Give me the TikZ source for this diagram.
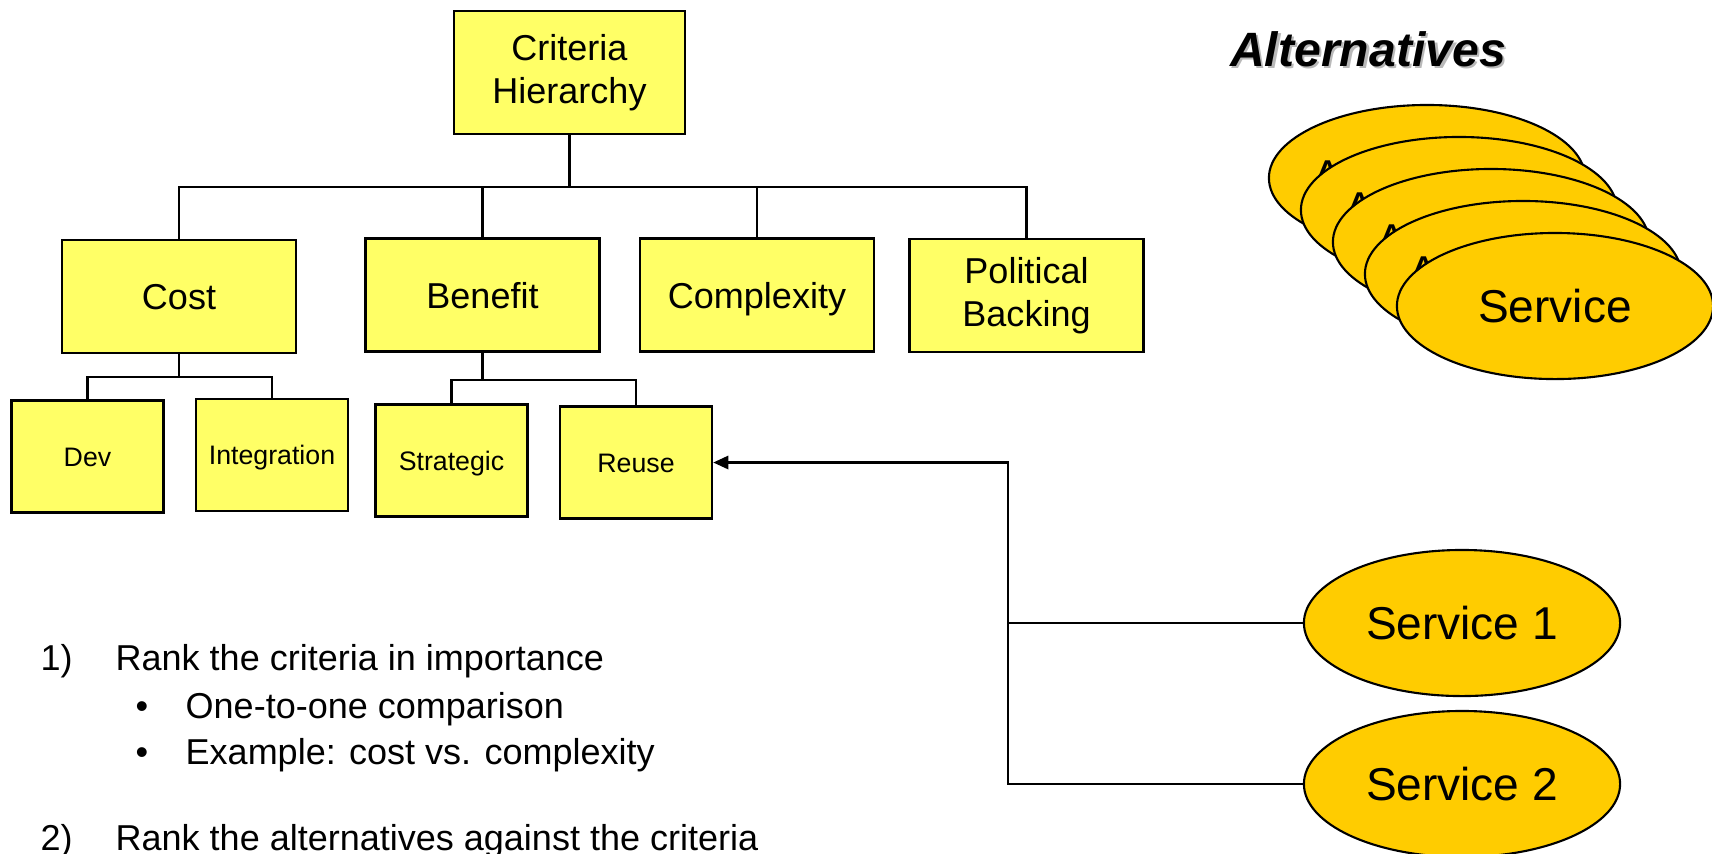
\documentclass[tikz,border=0pt]{standalone}
\usepackage{fontspec}
\setmainfont{Liberation Sans}
\usetikzlibrary{shapes.geometric,arrows.meta}

\definecolor{boxyellow}{HTML}{FFFF66}
\definecolor{svcgold}{HTML}{FFCC00}
\newcommand\bigtxt{\fontsize{10.24pt}{12.4pt}\selectfont}
\newcommand\smalltxt{\fontsize{7.6pt}{9pt}\selectfont}
\newcommand\svctxt{\fontsize{13.1pt}{15pt}\selectfont}
\newcommand\titletxt{\fontsize{13.7pt}{16pt}\selectfont\bfseries\itshape}

\begin{document}
\begin{tikzpicture}[x=0.01cm,y=-0.01cm,
    box/.style={rectangle,draw,line width=0.7pt,fill=boxyellow,font=\bigtxt,align=center,
        minimum width=2.34cm,minimum height=1.13cm,inner sep=0pt},
    single/.style={text height=7.4pt,text depth=0pt},
    subbox/.style={box,single,text height=5.5pt,font=\smalltxt,minimum width=1.52cm,minimum height=1.12cm},
    service/.style={ellipse,draw,line width=0.6pt,fill=svcgold,font=\svctxt,
        minimum width=3.16cm,minimum height=1.46cm,inner sep=0pt},
    link/.style={line width=0.6pt},
    listtext/.style={anchor=base west,inner sep=0pt,font=\bigtxt}]
\useasboundingbox (0,0) rectangle (1712,853);

% criteria tree
\begin{scope}[every node/.style={box}]
    \node[minimum width=2.31cm,minimum height=1.23cm] (crit) at (569.5,72.5) {Criteria\\Hierarchy};
    \node[single] (cost) at (179,296.5) {Cost};
    \node[single] (benefit) at (482.5,295) {Benefit};
    \node[single] (complexity) at (757,295) {Complexity};
    \node (political) at (1026.5,295.5) {Political\\Backing};
\end{scope}
\begin{scope}[every node/.style={subbox}]
    \node (dev) at (87.5,456.5) {Dev};
    \node (integration) at (272,455) {Integration};
    \node (strategic) at (451.5,460.5) {Strategic};
    \node (reuse) at (636,462.5) {Reuse};
\end{scope}
\begin{scope}[link]
    \draw (crit.south) -- ++(0,52) coordinate (bus);
    \foreach \n in {cost,benefit,complexity,political}
        \draw (bus) -| (\n.north);
    \draw (cost.south) -- ++(0,23) coordinate (costbus);
    \foreach \n in {dev,integration}
        \draw (costbus) -| (\n.north);
    \draw (benefit.south) -- ++(0,27) coordinate (benefitbus);
    \foreach \n in {strategic,reuse}
        \draw (benefitbus) -| (\n.north);
\end{scope}

% alternatives
\node[font=\titletxt,text=gray!55] (alttitleshadow) at (1370.5,51.5) {Alternatives};
\node[font=\titletxt] (alttitle) at (1368,49) {Alternatives};
\foreach \i in {0,...,3} {
    \node[service] (alt\i) at (1427+32*\i,178+32*\i) {};
    \node[anchor=base west,inner sep=0pt,font=\svctxt] (altA\i) at (1312+32*\i,192+32*\i) {A};
}
\node[service] (alt4) at (1555,306) {Service};

\node[service] (s1) at (1462,623) {Service 1};
\node[service] (s2) at (1462,784) {Service 2};
\coordinate (tap) at (1008,623);
\draw[link] (s1.west) -- (tap);
\draw[link,-{Triangle[length=4.3pt,width=3.8pt]}] (s2.west) -| (tap) |- (reuse.east);

% steps
\node[listtext] (num1) at (40,670) {1)};
\node[listtext] (step1) at (115,670) {Rank the criteria in importance};
\node[listtext] (dot1) at (135,718) {\textbullet};
\node[listtext] (sub1) at (185,718) {One-to-one comparison};
\node[listtext] (dot2) at (135,764) {\textbullet};
\node[listtext] (sub2) at (185,764) {Example: cost vs. complexity};
\node[listtext] (num2) at (40,850) {2)};
\node[listtext] (step2) at (115,850) {Rank the alternatives against the criteria};
\end{tikzpicture}
\end{document}
